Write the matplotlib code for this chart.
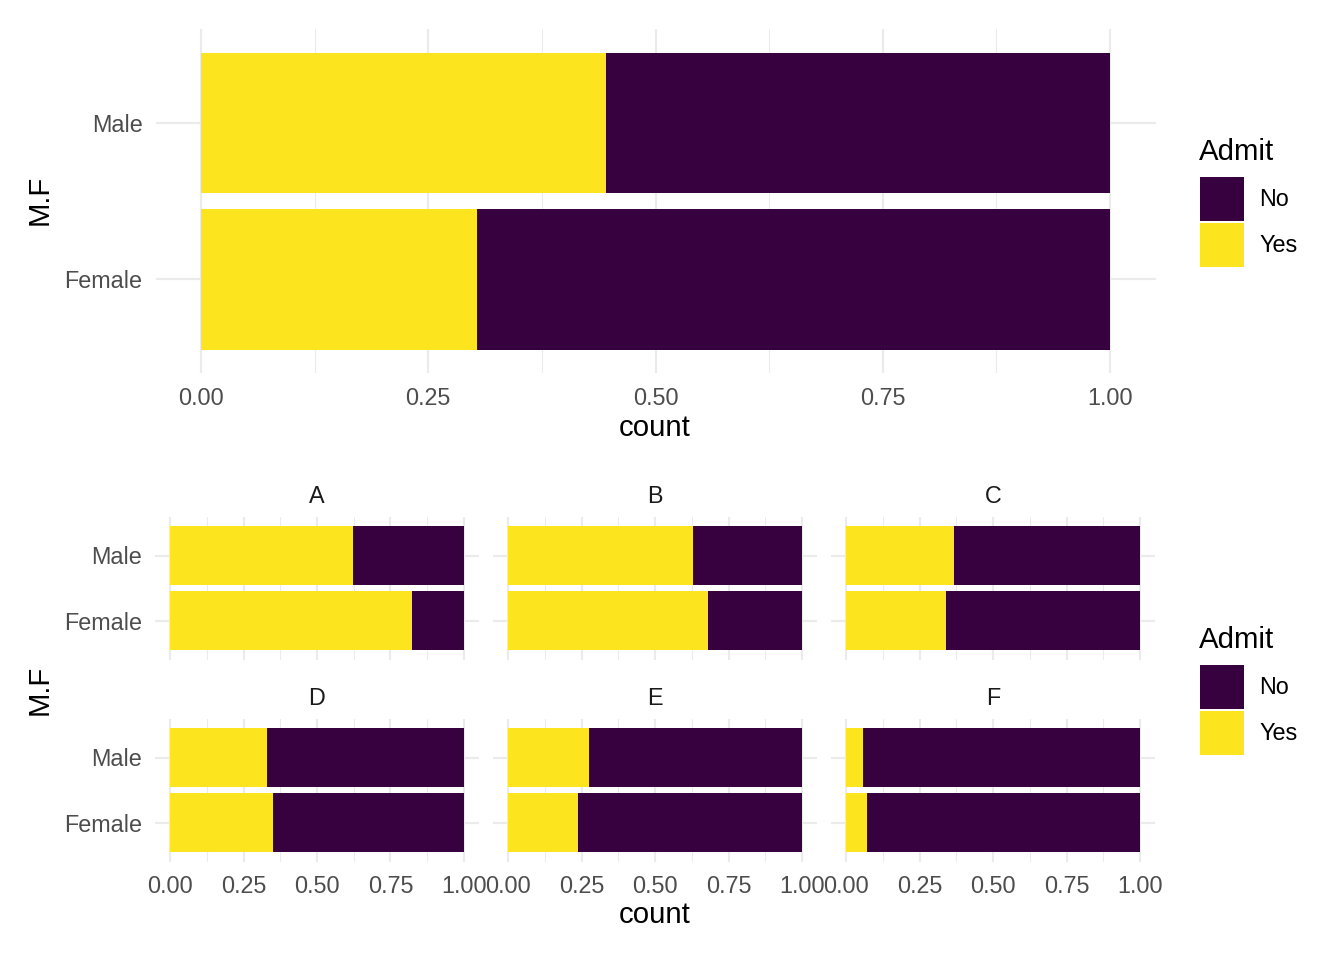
import numpy as np
import matplotlib
matplotlib.use("Agg")
import matplotlib.pyplot as plt
from matplotlib.patches import Rectangle

plt.rcParams['font.family'] = ['Liberation Sans', 'DejaVu Sans']

# share admitted (Yes) per gender, UC Berkeley admissions
genders = ['Female', 'Male']
overall_yes = [0.304, 0.445]
depts = ['A', 'B', 'C', 'D', 'E', 'F']
dept_yes_female = [0.824, 0.680, 0.341, 0.349, 0.239, 0.070]
dept_yes_male = [0.621, 0.630, 0.369, 0.331, 0.277, 0.059]
levels = ['No', 'Yes']

col_no = '#37013F'
col_yes = '#FCE41F'
grid_col = '#EBEBEB'
tick_col = '#4D4D4D'

FS_TICK = 11.7
FS_TITLE = 14.7

W, H = 1344, 960
fig = plt.figure(figsize=(W / 144, H / 144), dpi=144)


def px_axes(x0, y0, x1, y1):
    # pixel box (top-left origin) -> figure axes
    return fig.add_axes([x0 / W, 1 - y1 / H, (x1 - x0) / W, (y1 - y0) / H])


def draw_panel(ax, yes_vals, show_y, show_x):
    ax.set_xlim(-0.05, 1.05)
    ax.set_ylim(-0.6, len(genders) - 0.4)
    for x in np.arange(0, 1.01, 0.25):
        ax.axvline(x, color=grid_col, lw=1.07, zorder=0)
    for x in np.arange(0.125, 1, 0.25):
        ax.axvline(x, color=grid_col, lw=0.53, zorder=0)
    for i in range(len(genders)):
        ax.axhline(i, color=grid_col, lw=1.07, zorder=0)
    y = np.arange(len(genders))
    yes = np.array(yes_vals)
    ax.barh(y, yes, height=0.9, color=col_yes, zorder=2)
    ax.barh(y, 1 - yes, left=yes, height=0.9, color=col_no, zorder=2)
    for s in ax.spines.values():
        s.set_visible(False)
    ax.tick_params(axis='y', length=0, colors=tick_col, labelsize=FS_TICK, pad=6.5)
    ax.tick_params(axis='x', length=0, colors=tick_col, labelsize=FS_TICK, pad=6.8)
    ax.set_yticks(y)
    ax.set_yticklabels(genders if show_y else [])
    ax.set_xticks([0, 0.25, 0.5, 0.75, 1.0])
    if show_x:
        ax.set_xticklabels(['0.00', '0.25', '0.50', '0.75', '1.00'])
    else:
        ax.set_xticklabels([])


def legend(x0, ytitle):
    fig.text(x0 / W, 1 - (ytitle + 2) / H, 'Admit', fontsize=FS_TITLE, va='center', ha='left')
    for k, (lab, c) in enumerate(zip(levels, [col_no, col_yes])):
        top = ytitle + 28 + k * 46
        fig.patches.append(Rectangle(((x0 + 2) / W, 1 - (top + 42) / H), 42 / W, 42 / H,
                                     transform=fig.transFigure, color=c, figure=fig))
        fig.text((x0 + 60) / W, 1 - (top + 22) / H, lab, fontsize=FS_TICK, va='center', ha='left')


# top plot: overall
ax = px_axes(155.5, 29.4, 1155.5, 373)
draw_panel(ax, overall_yes, True, True)
fig.text(655 / W, 1 - 428 / H, 'count', fontsize=FS_TITLE, ha='center', va='center')
fig.text(40 / W, 1 - 200 / H, 'M.F', fontsize=FS_TITLE, rotation=90, va='center', ha='center')
legend(1199, 150)

# bottom plot: by department
col_x = [(155.3, 478.7), (493.3, 816.7), (831.3, 1154.7)]
row_y = [(516.5, 659.5), (718.5, 861.5)]
for i, d in enumerate(depts):
    r, c = divmod(i, 3)
    x0, x1 = col_x[c]
    y0, y1 = row_y[r]
    ax = px_axes(x0, y0, x1, y1)
    draw_panel(ax, [dept_yes_female[i], dept_yes_male[i]], c == 0, r == 1)
    fig.text((x0 + x1) / 2 / W, 1 - (y0 - 20) / H, d, fontsize=FS_TICK, color='#1A1A1A',
             ha='center', va='center')
fig.text(655 / W, 1 - 915 / H, 'count', fontsize=FS_TITLE, ha='center', va='center')
fig.text(40 / W, 1 - 690 / H, 'M.F', fontsize=FS_TITLE, rotation=90, va='center', ha='center')
legend(1199, 638)

fig.savefig('out.png', dpi=144, facecolor='white')
